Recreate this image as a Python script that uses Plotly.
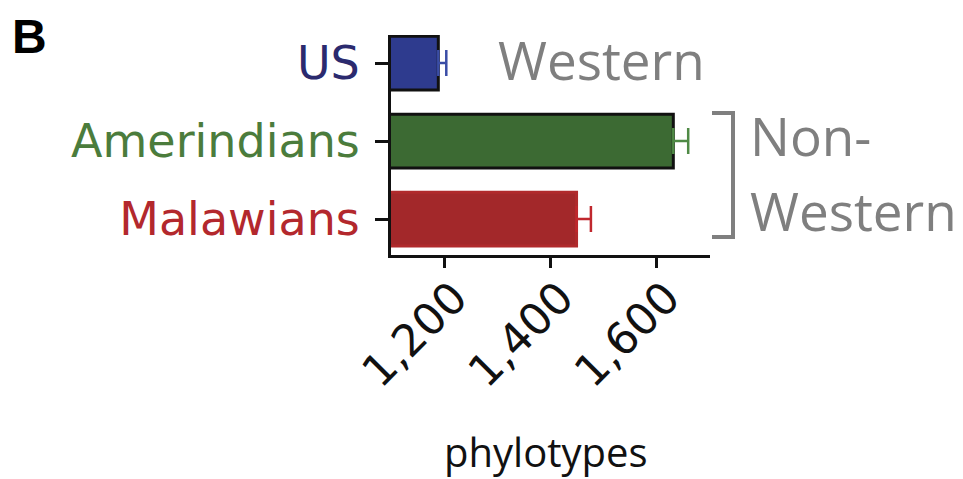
import plotly.graph_objects as go

categories = ["US", "Amerindians", "Malawians"]
phylotypes = [1189, 1631, 1449]
errors = [15, 28, 27]
bar_colors = ["#2e3b8e", "#3c6a33", "#a3282a"]
bar_line_colors = ["#111111", "#111111", "#b02a2c"]
err_colors = ["#3a4da6", "#4f8a45", "#c0272d"]
label_colors = ["#2b2a6e", "#4b7c3c", "#b3282d"]
tick_vals = [1200, 1400, 1600]
tick_text = ["1,200", "1,400", "1,600"]

fig = go.Figure()
for cat, val, err, bc, lc, ec in zip(categories, phylotypes, errors, bar_colors, bar_line_colors, err_colors):
    fig.add_trace(go.Bar(
        y=[cat], x=[val], orientation="h", width=0.69,
        marker=dict(color=bc, line=dict(color=lc, width=3)),
        error_x=dict(type="data", array=[err], arrayminus=[0], symmetric=False,
                     color=ec, thickness=2.5, width=13),
        showlegend=False, hoverinfo="skip",
    ))

fig.update_layout(
    width=963, height=479,
    margin=dict(l=391, r=253, t=35, b=224),
    paper_bgcolor="white", plot_bgcolor="white",
    barmode="overlay",
    font=dict(family="DejaVu Sans", color="#111111"),
)
fig.update_xaxes(
    range=[1100, 1700], tickvals=tick_vals, ticktext=tick_text, tickangle=-45,
    ticks="outside", ticklen=10, tickwidth=3, tickcolor="#111111",
    showline=True, linewidth=3, linecolor="#111111",
    showgrid=False, zeroline=False, ticklabelshift=10, ticklabelstandoff=-14,
    tickfont=dict(family="DejaVu Sans", size=44, color="#111111"),
)
fig.update_yaxes(
    type="category", categoryorder="array", categoryarray=categories,
    range=[2.46, -0.36],
    tickvals=categories,
    ticktext=[f"<span style='color:{c}'>{t}</span>" for t, c in zip(categories, label_colors)],
    ticks="outside", ticklen=13, tickwidth=3, tickcolor="#111111",
    showline=True, linewidth=3, linecolor="#111111",
    showgrid=False, zeroline=False, ticklabelstandoff=6,
    tickfont=dict(family="DejaVu Sans", size=46),
)

gray = "#7f7f7f"
W, H = 319.0, 220.0
def px(x):
    return (x - 391) / W
def py(y):
    return (255 - y) / H

fig.add_annotation(text="Western", x=px(496), y=py(59), xref="paper", yref="paper",
                   xanchor="left", yanchor="middle", showarrow=False,
                   font=dict(family="Open Sans", size=53, color=gray))
fig.add_annotation(text="Non-", x=px(748), y=py(135), xref="paper", yref="paper",
                   xanchor="left", yanchor="middle", showarrow=False,
                   font=dict(family="Open Sans", size=53, color=gray))
fig.add_annotation(text="Western", x=px(748), y=py(210), xref="paper", yref="paper",
                   xanchor="left", yanchor="middle", showarrow=False,
                   font=dict(family="Open Sans", size=53, color=gray))
fig.add_annotation(text="phylotypes", x=px(546), y=py(451), xref="paper", yref="paper",
                   xanchor="center", yanchor="middle", showarrow=False,
                   font=dict(family="Open Sans", size=40, color="#111111"))
fig.add_annotation(text="<b>B</b>", x=px(10), y=py(8), xref="paper", yref="paper",
                   xanchor="left", yanchor="top", showarrow=False,
                   font=dict(family="Liberation Sans", size=48, color="#000000"))

fig.add_shape(type="path",
              path=f"M {px(712)} {py(113)} L {px(733)} {py(113)} L {px(733)} {py(237)} L {px(712)} {py(237)}",
              xref="paper", yref="paper", line=dict(color=gray, width=4))

fig.write_html("out.html", config={"displayModeBar": False},
               post_script="document.body.style.margin='0';document.body.style.overflow='hidden';")
